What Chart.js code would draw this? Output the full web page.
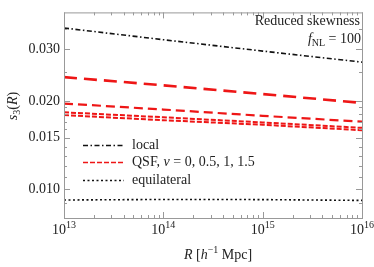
<!DOCTYPE html>
<html>
<head>
<meta charset="utf-8">
<script src="https://cdn.jsdelivr.net/npm/chart.js@4"></script>
<style>
  html, body { margin: 0; padding: 0; background: #fff; }
  #wrap { width: 374px; height: 267px; }
</style>
</head>
<body>
<div id="wrap"><canvas id="chart" width="374" height="267"></canvas></div>
<script>
// 半径 R [h^-1 Mpc]
const radii = [1e13, 1e14, 1e15, 1e16];

// reduced skewness s3(R)
const localS3 = [0.0354, 0.0323, 0.02955, 0.0271];
const qsfNu15 = [0.0241, 0.0226, 0.0211, 0.0197];
const qsfNu1 = [0.0196, 0.0187, 0.0178, 0.0170];
const qsfNu05 = [0.0183, 0.0176, 0.0169, 0.0162];
const qsfNu0 = [0.0179, 0.0172, 0.0166, 0.0159];
const equilS3 = [0.00921, 0.00925, 0.00924, 0.00918];

// 目盛り
const yMajorTicks = [0.010, 0.015, 0.020, 0.030];
const yMinorTicks = [0.009, 0.011, 0.012, 0.013, 0.014, 0.016, 0.017, 0.018, 0.019, 0.025, 0.035];
const xMajorTicks = [1e13, 1e14, 1e15, 1e16];
const xExponents = ['13', '14', '15', '16'];

const legendLabels = ['local', 'QSF', 'equilateral'];

const RED = 'rgb(238, 22, 22)';
const SERIF = "'Liberation Serif', 'DejaVu Serif', serif";
const TEXT = '#222';
const FRAME = '#999';

function pts(ys) {
    return radii.map((r, i) => ({ x: r, y: ys[i] }));
}

function makeSet(label, ys, color, dash, width) {
    return {
        label: label,
        data: pts(ys),
        borderColor: color,
        borderWidth: width,
        borderDash: dash,
        borderCapStyle: 'butt',
        pointRadius: 0,
        tension: 0,
        fill: false
    };
}

const datasets = [
    makeSet('local', localS3, '#111', [5, 2.5, 1.5, 2.5], 1.6),
    makeSet('QSF ν=1.5', qsfNu15, RED, [13, 7], 2.6),
    makeSet('QSF ν=1', qsfNu1, RED, [9, 5], 2.2),
    makeSet('QSF ν=0.5', qsfNu05, RED, [5, 2], 2),
    makeSet('QSF ν=0', qsfNu0, RED, [5, 2], 2),
    makeSet('equilateral', equilS3, '#111', [2, 2.5], 1.6)
];

// 枠・目盛り・ラベル・凡例を描くプラグイン
const framePlugin = {
    id: 'frame',
    afterDraw(chart) {
        const ctx = chart.ctx;
        const a = chart.chartArea;
        const xs = chart.scales.x;
        const ys = chart.scales.y;
        ctx.save();

        // 枠
        ctx.strokeStyle = FRAME;
        ctx.lineWidth = 1;
        ctx.setLineDash([]);
        ctx.strokeRect(a.left + 0.5, a.top + 0.5, a.right - a.left, a.bottom - a.top);

        // x 目盛り
        const xMinor = [];
        for (let d = 13; d < 16; d++) {
            for (let m = 2; m <= 9; m++) xMinor.push(m * Math.pow(10, d));
        }
        ctx.beginPath();
        xMajorTicks.forEach(v => {
            const px = Math.round(xs.getPixelForValue(v)) + 0.5;
            ctx.moveTo(px, a.bottom); ctx.lineTo(px, a.bottom - 6);
            ctx.moveTo(px, a.top); ctx.lineTo(px, a.top + 6);
        });
        xMinor.forEach(v => {
            const px = Math.round(xs.getPixelForValue(v)) + 0.5;
            ctx.moveTo(px, a.bottom); ctx.lineTo(px, a.bottom - 3);
            ctx.moveTo(px, a.top); ctx.lineTo(px, a.top + 3);
        });
        // y 目盛り
        yMajorTicks.forEach(v => {
            const py = Math.round(ys.getPixelForValue(v)) + 0.5;
            ctx.moveTo(a.left, py); ctx.lineTo(a.left + 6, py);
            ctx.moveTo(a.right, py); ctx.lineTo(a.right - 6, py);
        });
        yMinorTicks.forEach(v => {
            const py = Math.round(ys.getPixelForValue(v)) + 0.5;
            ctx.moveTo(a.left, py); ctx.lineTo(a.left + 3, py);
            ctx.moveTo(a.right, py); ctx.lineTo(a.right - 3, py);
        });
        ctx.stroke();

        // x ラベル 10^n
        ctx.fillStyle = TEXT;
        ctx.textBaseline = 'alphabetic';
        xMajorTicks.forEach((v, i) => {
            const px = xs.getPixelForValue(v);
            ctx.font = '14px ' + SERIF;
            const w1 = ctx.measureText('10').width;
            ctx.font = '10px ' + SERIF;
            const w2 = ctx.measureText(xExponents[i]).width;
            const x0 = px - (w1 + w2) / 2;
            ctx.textAlign = 'left';
            ctx.font = '14px ' + SERIF;
            ctx.fillText('10', x0, a.bottom + 16);
            ctx.font = '10px ' + SERIF;
            ctx.fillText(xExponents[i], x0 + w1, a.bottom + 10);
        });

        // x 軸タイトル R [h^-1 Mpc]
        const parts = [
            ['R', 'italic 14px', 0],
            [' [', '14px', 0],
            ['h', 'italic 14px', 0],
            ['−1', '10px', -6],
            [' Mpc]', '14px', 0]
        ];
        let total = 0;
        parts.forEach(p => { ctx.font = p[1] + ' ' + SERIF; total += ctx.measureText(p[0]).width; });
        let cx = 218 - total / 2;
        parts.forEach(p => {
            ctx.font = p[1] + ' ' + SERIF;
            ctx.textAlign = 'left';
            ctx.fillText(p[0], cx, 259 + p[2]);
            cx += ctx.measureText(p[0]).width;
        });

        // y 軸タイトル s3(R)
        ctx.save();
        ctx.translate(17, 106);
        ctx.rotate(-Math.PI / 2);
        const yParts = [
            ['s', 'italic 14px', 0],
            ['3', '10px', 3],
            ['(', '14px', 0],
            ['R', 'italic 14px', 0],
            [')', '14px', 0]
        ];
        total = 0;
        yParts.forEach(p => { ctx.font = p[1] + ' ' + SERIF; total += ctx.measureText(p[0]).width; });
        cx = -total / 2;
        yParts.forEach(p => {
            ctx.font = p[1] + ' ' + SERIF;
            ctx.fillText(p[0], cx, p[2]);
            cx += ctx.measureText(p[0]).width;
        });
        ctx.restore();

        // 注記
        ctx.textAlign = 'right';
        ctx.font = '14px ' + SERIF;
        ctx.fillText('Reduced skewness', a.right - 2, 25);
        const fParts = [
            ['f', 'italic 14px', 0],
            ['NL', '10px', 3],
            [' = 100', '14px', 0]
        ];
        total = 0;
        fParts.forEach(p => { ctx.font = p[1] + ' ' + SERIF; total += ctx.measureText(p[0]).width; });
        cx = a.right - 1 - total;
        ctx.textAlign = 'left';
        fParts.forEach(p => {
            ctx.font = p[1] + ' ' + SERIF;
            ctx.fillText(p[0], cx, 43 + p[2]);
            cx += ctx.measureText(p[0]).width;
        });

        // 凡例
        const legendStyles = [datasets[0], datasets[4], datasets[5]];
        const rows = [145, 162, 180];
        legendStyles.forEach((ds, i) => {
            ctx.strokeStyle = ds.borderColor;
            ctx.lineWidth = 1.6;
            ctx.setLineDash(i === 1 ? [5, 2] : (i === 0 ? [5, 2.5, 1.5, 2.5] : [2, 2.5]));
            ctx.beginPath();
            ctx.moveTo(83, rows[i] + 0.5);
            ctx.lineTo(124, rows[i] + 0.5);
            ctx.stroke();
        });
        ctx.setLineDash([]);
        ctx.fillStyle = TEXT;
        ctx.font = '14px ' + SERIF;
        ctx.fillText(legendLabels[0], 132, rows[0] + 4);
        ctx.fillText(legendLabels[2], 132, rows[2] + 4);
        const qParts = [
            [legendLabels[1] + ', ', '14px'],
            ['ν', 'italic 14px'],
            [' = 0, 0.5, 1, 1.5', '14px']
        ];
        cx = 132;
        qParts.forEach(p => {
            ctx.font = p[1] + ' ' + SERIF;
            ctx.fillText(p[0], cx, rows[1] + 4);
            cx += ctx.measureText(p[0]).width;
        });

        ctx.restore();
    }
};

new Chart(document.getElementById('chart').getContext('2d'), {
    type: 'line',
    data: { datasets: datasets },
    options: {
        responsive: false,
        animation: false,
        devicePixelRatio: 1,
        layout: { padding: { top: 5, right: 12, left: 0, bottom: 0 } },
        plugins: {
            legend: { display: false },
            tooltip: { enabled: false }
        },
        scales: {
            x: {
                type: 'logarithmic',
                min: 1e13,
                max: 1e16,
                grid: { display: false },
                border: { display: false },
                ticks: { display: false },
                afterFit(scale) { scale.height = 49; }
            },
            y: {
                type: 'logarithmic',
                min: 0.008,
                max: 0.040,
                grid: { display: false, drawTicks: false },
                border: { display: false },
                afterBuildTicks(scale) {
                    scale.ticks = yMajorTicks.map(v => ({ value: v }));
                },
                ticks: {
                    padding: 4,
                    color: TEXT,
                    font: { family: SERIF, size: 14 },
                    callback: v => Number(v).toFixed(3)
                },
                afterFit(scale) { scale.width = 64; }
            }
        }
    },
    plugins: [framePlugin]
});
</script>
</body>
</html>
